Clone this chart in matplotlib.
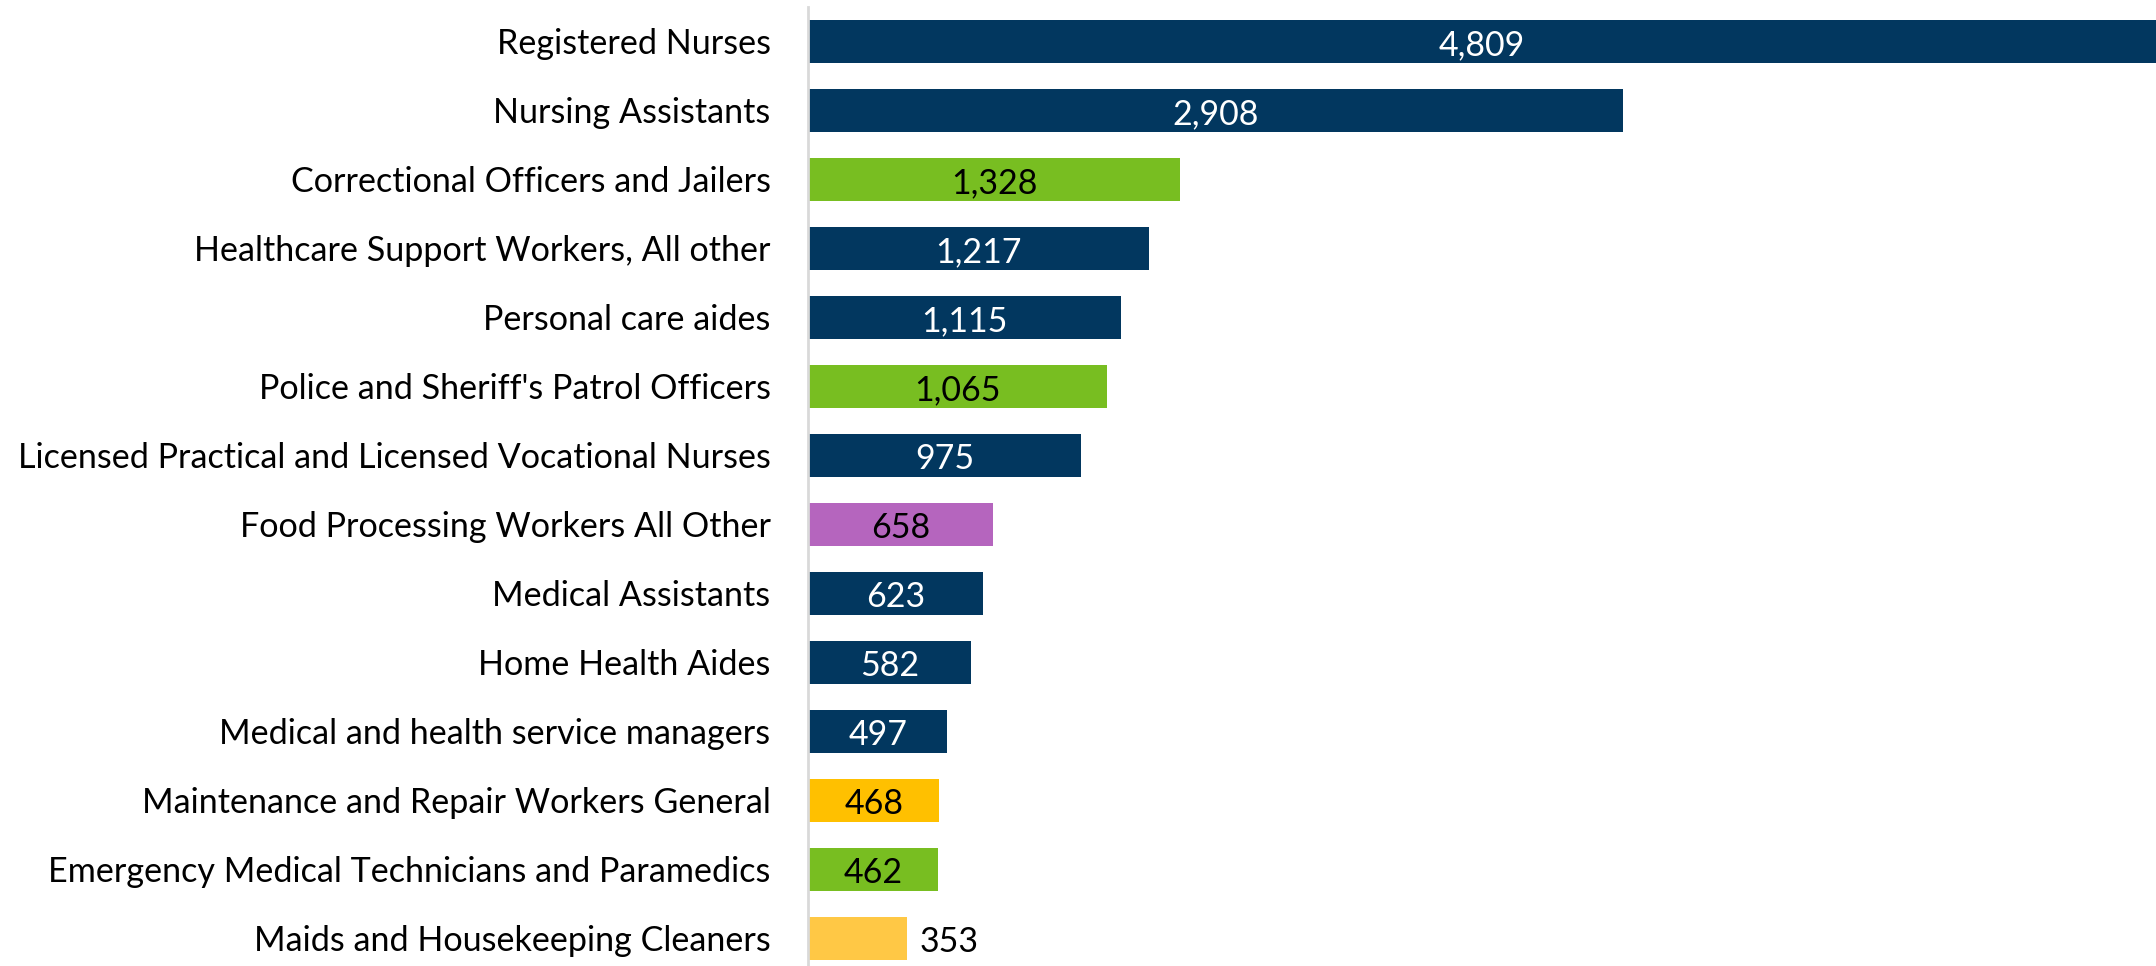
import matplotlib
matplotlib.use("Agg")
import matplotlib.pyplot as plt

categories = [
    "Registered Nurses",
    "Nursing Assistants",
    "Correctional Officers and Jailers",
    "Healthcare Support Workers, All other",
    "Personal care aides",
    "Police and Sheriff's Patrol Officers",
    "Licensed Practical and Licensed Vocational Nurses",
    "Food Processing Workers All Other",
    "Medical Assistants",
    "Home Health Aides",
    "Medical and health service managers",
    "Maintenance and Repair Workers General",
    "Emergency Medical Technicians and Paramedics",
    "Maids and Housekeeping Cleaners",
]
values = [4809, 2908, 1328, 1217, 1115, 1065, 975, 658, 623, 582, 497, 468, 462, 353]
groups = ["health", "health", "safety", "health", "health", "safety", "health",
          "food", "health", "health", "health", "maint", "safety", "clean"]

group_colors = {
    "health": "#02375F",
    "safety": "#78BE21",
    "food": "#B565BE",
    "maint": "#FFC000",
    "clean": "#FFC845",
}
label_colors = {"health": "white"}

plt.rcParams["font.family"] = ["Lato", "DejaVu Sans"]

fig = plt.figure(figsize=(21.56, 9.66), dpi=100)
ax = fig.add_axes([0.3748, 0.0, 0.6252, 0.9928])

y = list(range(len(categories)))
colors = [group_colors[g] for g in groups]
ax.barh(y, values, height=0.62, color=colors)

ax.set_xlim(0, 4809)
ax.set_ylim(13.4, -0.5)
ax.set_yticks(y)
ax.set_yticklabels(categories, fontsize=24.6)
ax.tick_params(axis="y", length=0, pad=27)
ax.set_xticks([])

for spine in ["top", "right", "bottom"]:
    ax.spines[spine].set_visible(False)
ax.spines["left"].set_color("#D9D9D9")
ax.spines["left"].set_linewidth(2)

for yi, v, g in zip(y, values, groups):
    text = f"{v:,}"
    if v < 400:
        ax.text(v + 45, yi + 0.05, text, va="center", ha="left", fontsize=24.5, color="black")
    else:
        ax.text(v / 2, yi + 0.05, text, va="center", ha="center", fontsize=24.5,
                color=label_colors.get(g, "black"))

fig.savefig("out.png", dpi=100)
plt.close(fig)
